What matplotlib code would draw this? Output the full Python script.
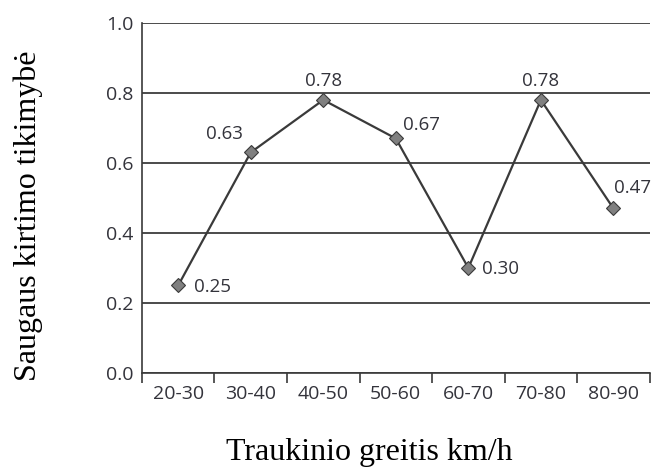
import numpy as np
import matplotlib
matplotlib.use("Agg")
import matplotlib.pyplot as plt

categories = ["20-30", "30-40", "40-50", "50-60", "60-70", "70-80", "80-90"]
values = [0.25, 0.63, 0.78, 0.67, 0.30, 0.78, 0.47]
# label offsets in points (dx, dy) and alignment
label_pos = [(11.5, -1, "left", "center"),
             (-5.5, 7, "right", "bottom"),
             (0, 7, "center", "bottom"),
             (5.5, 3, "left", "bottom"),
             (10, -1, "left", "center"),
             (0, 7, "center", "bottom"),
             (0.5, 8, "left", "bottom")]

plt.rcParams['font.family'] = ['Open Sans', 'DejaVu Sans']

fig = plt.figure(figsize=(6.51, 4.68), dpi=100)
ax = fig.add_axes([0.218, 0.203, 0.78, 0.748])

x = np.arange(len(categories))
ax.plot(x, values, color="#3a3a3a", lw=1.6, marker="D", markersize=7.5,
        markerfacecolor="#808080", markeredgecolor="#3a3a3a", markeredgewidth=0.8, zorder=3)

for xi, v, (dx, dy, ha, va) in zip(x, values, label_pos):
    ax.annotate(f"{v:.2f}", (xi, v), xytext=(dx, dy), textcoords="offset points",
                ha=ha, va=va, fontsize=13.5, color="#33333b", annotation_clip=False)

ax.set_xlim(-0.5, len(categories) - 0.5)
ax.set_ylim(0, 1.0)
ax.set_yticks(np.arange(0, 1.01, 0.2))
ax.set_yticklabels([f"{t:.1f}" for t in np.arange(0, 1.01, 0.2)])
ax.yaxis.grid(True, color="#1a1a1a", lw=1.1)
ax.set_axisbelow(True)
ax.tick_params(axis="y", length=0, pad=6, labelsize=14, labelcolor="#33333b")

ax.set_xticks(np.arange(-0.5, len(categories), 1.0))
ax.set_xticklabels([])
ax.set_xticks(x, minor=True)
ax.set_xticklabels(categories, minor=True)
ax.tick_params(axis="x", which="major", length=7, width=1.2, color="#3a3a3a", direction="out")
ax.tick_params(axis="x", which="minor", length=0, pad=9, labelsize=14, labelcolor="#33333b")

for s in ["top", "right"]:
    ax.spines[s].set_visible(False)
for s in ["left", "bottom"]:
    ax.spines[s].set_color("#3a3a3a")
    ax.spines[s].set_linewidth(1.2)

fig.text(0.568, 0.017, "Traukinio greitis km/h", ha="center", va="baseline",
         family="Liberation Serif", fontsize=23)
fig.text(0.043, 0.538, "Saugaus kirtimo tikimybė", ha="center", va="center",
         rotation=90, family="Liberation Serif", fontsize=23)

fig.savefig("out.png", dpi=100)
